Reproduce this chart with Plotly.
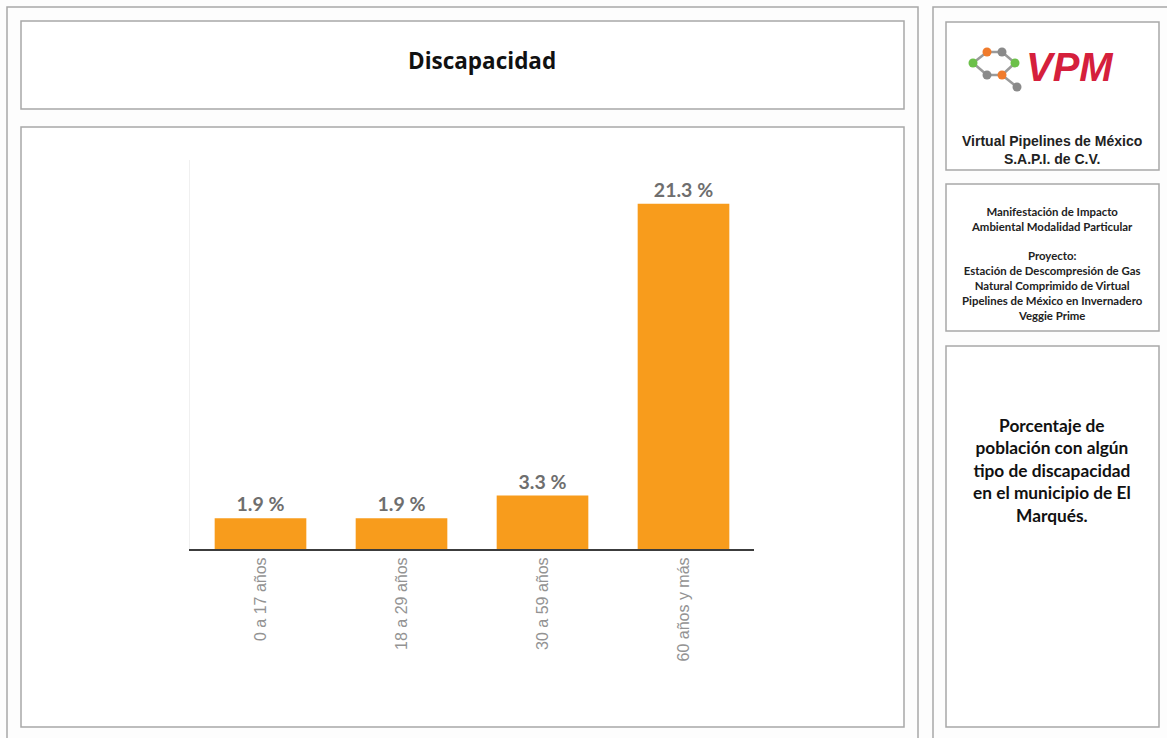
import plotly.graph_objects as go

W, H = 1167, 738

grupos = ['0 a 17 años', '18 a 29 años', '30 a 59 años', '60 años y más']
porcentaje = [1.9, 1.9, 3.3, 21.3]

titulo = 'Discapacidad'
empresa = 'Virtual Pipelines de México<br>S.A.P.I. de C.V.'
proyecto = ('Manifestación de Impacto<br>Ambiental Modalidad Particular<br><br>'
            'Proyecto:<br>Estación de Descompresión de Gas<br>'
            'Natural Comprimido de Virtual<br>Pipelines de México en Invernadero<br>'
            'Veggie Prime')
nota = ('Porcentaje de<br>población con algún<br>tipo de discapacidad<br>'
        'en el municipio de El<br>Marqués.')


def px(x):
    return x / W


def py(y):
    return 1 - y / H


fig = go.Figure(go.Bar(
    x=grupos, y=porcentaje,
    marker=dict(color='#f89c1c', line=dict(width=0)),
    texttemplate='%{y} %', textposition='outside', cliponaxis=False,
    textfont=dict(family='Lato', size=19.5, color='#6e6e6e', weight='bold'),
))

fig.update_layout(
    width=W, height=H,
    margin=dict(l=0, r=0, t=0, b=0),
    paper_bgcolor='#fdfdfd', plot_bgcolor='white',
    showlegend=False, bargap=0.35,
    xaxis=dict(domain=[px(190), px(754)], showline=True, linecolor='#3c3c3c',
               linewidth=2, tickangle=-90, ticks='', showgrid=False,
               tickfont=dict(family='Liberation Sans', size=16, color='#939393')),
    yaxis=dict(domain=[py(549), py(160)], range=[0, 24], showticklabels=False,
               showgrid=False, zeroline=False, showline=True,
               linecolor='#f0f0f0', linewidth=1),
)

border = dict(color='#a8a8a8', width=1.5)
boxes = [
    (7, 7, 918, 745, '#fdfdfd'),
    (933, 7, 1175, 745, '#fdfdfd'),
    (21, 21, 904, 109, 'white'),
    (21, 127, 904, 727, 'white'),
    (946, 22, 1159, 170, 'white'),
    (946, 184, 1159, 331, 'white'),
    (946, 346, 1159, 727, 'white'),
]
for x0, y0, x1, y1, fill in boxes:
    fig.add_shape(type='rect', xref='paper', yref='paper', layer='below',
                  x0=px(x0), x1=px(x1), y0=py(y0), y1=py(y1),
                  line=border, fillcolor=fill)

# logo
nodos = [(987, 52, '#f07b2c'), (1002, 52, '#8a8a8a'), (1015, 63, '#6cc04a'),
         (1002, 75, '#f07b2c'), (987, 75, '#8a8a8a'), (973, 63, '#6cc04a')]
for i in range(6):
    a, b = nodos[i], nodos[(i + 1) % 6]
    fig.add_shape(type='line', xref='paper', yref='paper',
                  x0=px(a[0]), y0=py(a[1]), x1=px(b[0]), y1=py(b[1]),
                  line=dict(color='#9a9a9a', width=2.5))
fig.add_shape(type='line', xref='paper', yref='paper',
              x0=px(1002), y0=py(75), x1=px(1017), y1=py(87),
              line=dict(color='#9a9a9a', width=2.5))
for x, y, c in nodos + [(1017, 87, '#8a8a8a')]:
    fig.add_shape(type='circle', xref='paper', yref='paper',
                  x0=px(x - 4.5), x1=px(x + 4.5), y0=py(y - 4.5), y1=py(y + 4.5),
                  fillcolor=c, line=dict(width=0))


def texto(t, x, y, size, family, color, weight='bold'):
    fig.add_annotation(text=t, x=px(x), y=py(y), xref='paper', yref='paper',
                       xanchor='center', yanchor='middle', showarrow=False,
                       font=dict(family=family, size=size, color=color,
                                 weight=weight))


texto('<i>VPM</i>', 1070, 67, 40, 'Liberation Sans', '#d5203c')
texto(titulo, 482, 61, 22.5, 'Open Sans', '#111111')
texto(empresa, 1052, 150, 14, 'Liberation Sans', '#222222')
texto(proyecto, 1052, 263, 11.4, 'Lato', '#222222')
texto(nota, 1052, 470, 17.3, 'Lato', '#111111')

fig.write_html('out.html', config={'displayModeBar': False},
               post_script="document.body.style.margin='0';")
